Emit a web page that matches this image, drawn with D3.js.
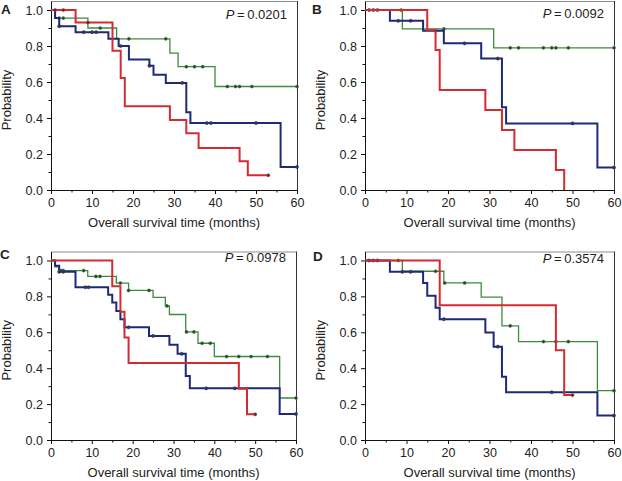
<!DOCTYPE html>
<html>
<head>
<meta charset="utf-8">
<script src="https://cdn.jsdelivr.net/npm/d3@7"></script>
<style>
  html, body { margin: 0; padding: 0; background: #fff; }
  svg { display: block; }
  text { font-family: "Liberation Sans", Arial, Helvetica, sans-serif; fill: #222; }
</style>
</head>
<body>
<svg id="chart" width="622" height="481"></svg>
<script>
// ---------- shared ticks / labels ----------
const timeTicks = [0, 10, 20, 30, 40, 50, 60];
const timeMinorTicks = [5, 15, 25, 35, 45, 55];
const probTicks = [0, 0.2, 0.4, 0.6, 0.8, 1.0];
const probMinorTicks = [0.1, 0.3, 0.5, 0.7, 0.9];
const panelLabels = ["A", "B", "C", "D"];
const pValues = ["0.0201", "0.0092", "0.0978", "0.3574"];
const xTitle = "Overall survival time (months)";
const yTitle = "Probability";

// ---------- Panel A ----------
const aRedT = [6, 15, 17, 18, 29, 33, 36, 46, 48];
const aRedS = [0.93, 0.774, 0.622, 0.465, 0.389, 0.315, 0.233, 0.16, 0.082];
const aRedEnd = 53;
const aRedCens = [1, 3, 9, 53];
const aBlueT = [1, 2, 6, 14, 16.5, 19, 24, 25, 28, 33, 34, 56];
const aBlueS = [0.955, 0.91, 0.877, 0.84, 0.80, 0.725, 0.69, 0.64, 0.595, 0.432, 0.372, 0.128];
const aBlueEnd = 60;
const aBlueCens = [2, 8, 10, 11, 17, 24, 32, 38, 39, 50, 60];
const aGreenT = [1, 9, 16, 29, 31, 40];
const aGreenS = [0.955, 0.90, 0.84, 0.76, 0.685, 0.575];
const aGreenEnd = 60;
const aGreenCens = [2, 3, 12, 19, 28, 33, 35, 37, 43, 45, 46, 49, 60];

// ---------- Panel B ----------
const bRedT = [15, 17, 18, 29, 33, 36, 46, 48];
const bRedS = [0.889, 0.778, 0.556, 0.444, 0.333, 0.222, 0.111, 0];
const bRedEnd = 48;
const bRedCens = [];
const bBlueT = [6, 14, 19, 28, 33, 34, 56];
const bBlueS = [0.94, 0.885, 0.815, 0.73, 0.46, 0.37, 0.125];
const bBlueEnd = 60;
const bBlueCens = [1, 2, 3, 8, 11, 17, 24, 32, 50, 60];
const bGreenT = [9, 31];
const bGreenS = [0.895, 0.79];
const bGreenEnd = 60;
const bGreenCens = [8.7, 19, 35, 37, 43, 45, 46, 49, 60];

// ---------- Panel C ----------
const cRedT = [15, 17, 18, 19, 46, 48];
const cRedS = [0.857, 0.714, 0.571, 0.429, 0.286, 0.143];
const cRedEnd = 50;
const cRedCens = [50];
const cBlueT = [1, 2, 6, 14, 15, 16, 17, 18, 24, 29, 31, 33, 34, 56];
const cBlueS = [0.97, 0.937, 0.851, 0.809, 0.766, 0.719, 0.673, 0.628, 0.58, 0.53, 0.48, 0.357, 0.288, 0.145];
const cBlueEnd = 60;
const cBlueCens = [2, 3, 8.4, 9.2, 19, 25, 32, 38, 45, 60];
const cGreenT = [1, 2, 9, 16, 19, 25, 28, 29, 33, 36, 40, 56];
const cGreenS = [0.965, 0.944, 0.911, 0.874, 0.833, 0.794, 0.747, 0.699, 0.602, 0.539, 0.465, 0.234];
const cGreenEnd = 60;
const cGreenCens = [2.5, 3, 8, 11, 12, 17, 19, 24, 28.4, 33.2, 35, 37, 39, 43, 46, 49, 53, 60];

// ---------- Panel D ----------
const dRedT = [18, 46, 48];
const dRedS = [0.75, 0.5, 0.25];
const dRedEnd = 50;
const dRedCens = [50];
const dBlueT = [6, 14, 15, 17, 18, 29, 31, 33, 34, 56];
const dBlueS = [0.937, 0.874, 0.803, 0.736, 0.673, 0.599, 0.52, 0.353, 0.266, 0.136];
const dBlueEnd = 60;
const dBlueCens = [1, 2, 3, 9, 11, 19, 32, 45, 60];
const dGreenT = [9, 19, 28, 33, 37, 56];
const dGreenS = [0.94, 0.875, 0.796, 0.636, 0.548, 0.275];
const dGreenEnd = 60;
const dGreenCens = [8, 17, 19.2, 24, 35, 43, 46, 49, 60];

// ---------- build structures ----------
const groupStyle = {
  green: { color: "#3f8a3f", width: 1.3 },
  blue:  { color: "#1e2a78", width: 2.0 },
  red:   { color: "#d42a32", width: 2.0 }
};
function grp(name, t, s, end, cens) { return { name, t, s, end, cens }; }
const panelData = [
  [grp("green", aGreenT, aGreenS, aGreenEnd, aGreenCens), grp("blue", aBlueT, aBlueS, aBlueEnd, aBlueCens), grp("red", aRedT, aRedS, aRedEnd, aRedCens)],
  [grp("green", bGreenT, bGreenS, bGreenEnd, bGreenCens), grp("blue", bBlueT, bBlueS, bBlueEnd, bBlueCens), grp("red", bRedT, bRedS, bRedEnd, bRedCens)],
  [grp("green", cGreenT, cGreenS, cGreenEnd, cGreenCens), grp("blue", cBlueT, cBlueS, cBlueEnd, cBlueCens), grp("red", cRedT, cRedS, cRedEnd, cRedCens)],
  [grp("green", dGreenT, dGreenS, dGreenEnd, dGreenCens), grp("blue", dBlueT, dBlueS, dBlueEnd, dBlueCens), grp("red", dRedT, dRedS, dRedEnd, dRedCens)]
];

// layout (pixel geometry of each panel)
const layout = [
  { left: 51,  right: 297, top: 1,     bottom: 190, pY: 18.5,  labX: 1,   labY: 13.5 },
  { left: 365, right: 614, top: 1,     bottom: 190, pY: 17.5,  labX: 312, labY: 13.5 },
  { left: 51,  right: 296, top: 251.5, bottom: 440, pY: 262,   labX: 0,   labY: 258.5 },
  { left: 365, right: 614, top: 251.5, bottom: 440, pY: 262.5, labX: 313, labY: 260.5 }
];

const svg = d3.select("#chart");

function survAt(g, t) {
  let v = 1;
  for (let i = 0; i < g.t.length; i++) { if (g.t[i] <= t) v = g.s[i]; }
  return v;
}

layout.forEach((L, pi) => {
  const x = d3.scaleLinear().domain([0, 60]).range([L.left, L.right]);
  const y = d3.scaleLinear().domain([0, 1.05]).range([L.bottom, L.top]);
  const g = svg.append("g");

  // frame (top + right)
  g.append("line").attr("x1", L.left).attr("x2", L.right + 0.5).attr("y1", L.top + 0.5).attr("y2", L.top + 0.5)
    .attr("stroke", "#8c8c8c").attr("stroke-width", 1);
  g.append("line").attr("x1", L.right + 0.5).attr("x2", L.right + 0.5).attr("y1", L.top).attr("y2", L.bottom)
    .attr("stroke", "#333").attr("stroke-width", 1);

  // x axis
  const xAxis = d3.axisBottom(x).tickValues(timeTicks).tickSize(4).tickPadding(4).tickSizeOuter(0)
    .tickFormat(d3.format("d"));
  const gx = g.append("g").attr("transform", `translate(0,${L.bottom})`).call(xAxis);
  gx.selectAll("text").style("font-size", "12.5px").attr("fill", "#222");
  gx.select(".domain").attr("stroke", "#111");
  gx.selectAll(".tick line").attr("stroke", "#111");
  const gxm = g.append("g").attr("transform", `translate(0,${L.bottom})`)
    .call(d3.axisBottom(x).tickValues(timeMinorTicks).tickSize(2.5).tickFormat("").tickSizeOuter(0));
  gxm.select(".domain").remove();
  gxm.selectAll(".tick line").attr("stroke", "#111");

  // y axis
  const yAxis = d3.axisLeft(y).tickValues(probTicks).tickSize(4).tickPadding(4).tickSizeOuter(0)
    .tickFormat(d3.format(".1f"));
  const gy = g.append("g").attr("transform", `translate(${L.left},0)`).call(yAxis);
  gy.selectAll("text").style("font-size", "12.5px").attr("fill", "#222");
  gy.select(".domain").attr("stroke", "#111");
  gy.selectAll(".tick line").attr("stroke", "#111");
  const gym = g.append("g").attr("transform", `translate(${L.left},0)`)
    .call(d3.axisLeft(y).tickValues(probMinorTicks).tickSize(2.5).tickFormat("").tickSizeOuter(0));
  gym.select(".domain").remove();
  gym.selectAll(".tick line").attr("stroke", "#111");

  // axis titles
  g.append("text").attr("x", (L.left + L.right) / 2).attr("y", L.bottom + 37)
    .attr("text-anchor", "middle").style("font-size", "13px").text(xTitle);
  g.append("text")
    .attr("transform", `translate(${L.left - 40},${(y(0) + y(1)) / 2}) rotate(-90)`)
    .attr("text-anchor", "middle").style("font-size", "13px").text(yTitle);

  // panel label
  g.append("text").attr("x", L.labX).attr("y", L.labY).style("font-size", "13.5px")
    .style("font-weight", "bold").attr("fill", "#111").text(panelLabels[pi]);

  // P value
  const pt = g.append("text").attr("x", L.right - 10).attr("y", L.pY).attr("text-anchor", "end")
    .style("font-size", "13px");
  pt.append("tspan").style("font-style", "italic").text("P");
  pt.append("tspan").text("\u2009=\u2009" + pValues[pi]);

  // curves
  const line = d3.line().x(d => x(d[0])).y(d => y(d[1])).curve(d3.curveStepAfter);
  panelData[pi].forEach(gr => {
    const st = groupStyle[gr.name];
    const pts = [[0, 1]];
    gr.t.forEach((t, i) => pts.push([t, gr.s[i]]));
    pts.push([gr.end, gr.s[gr.s.length - 1]]);
    g.append("path").attr("d", line(pts)).attr("fill", "none")
      .attr("stroke", st.color).attr("stroke-width", st.width);
    g.selectAll(null).data(gr.cens).enter().append("circle")
      .attr("cx", d => x(d)).attr("cy", d => y(survAt(gr, d)))
      .attr("r", 1.6).attr("fill", "#3a3a3a").attr("stroke", st.color).attr("stroke-width", 0.5);
  });
});
</script>
</body>
</html>
